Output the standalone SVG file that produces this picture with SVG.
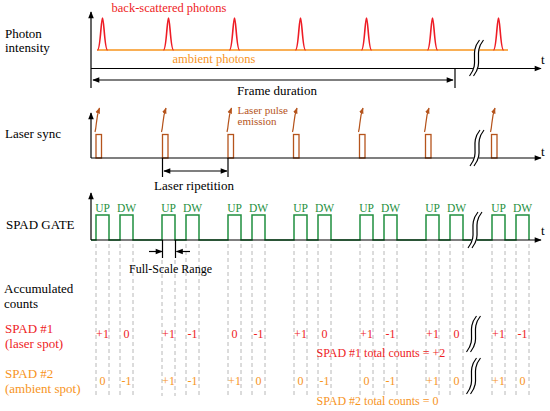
<svg xmlns="http://www.w3.org/2000/svg" xmlns:xlink="http://www.w3.org/1999/xlink" width="550" height="411" viewBox="0 0 550 411">
<style>
text{font-family:"Liberation Serif","Times New Roman",serif;}
.lbl{font-size:13px;fill:#000;}
.ax{stroke:#000;stroke-width:1.2;fill:none;}
.red{fill:#ee1c25;}
.org{fill:#f7941d;}
.brn{fill:#b5541c;}
.grn{fill:#1f8f3f;}
.cnt{font-size:12px;text-anchor:middle;}
.gate{fill:none;stroke:#1f8f3f;stroke-width:1.5;}
.pulse{fill:none;stroke:#b5541c;stroke-width:1.3;}
.sq{fill:none;stroke:#b5541c;stroke-width:1.2;}
.pk{fill:none;stroke:#ee1c25;stroke-width:1.6;}
.dash{stroke:#b8b8b8;stroke-width:1;stroke-dasharray:4 3;}
.ud{font-size:11.5px;text-anchor:middle;fill:#1f8f3f;}
</style>
<defs>
<marker id="ah" viewBox="0 0 10 10" refX="9" refY="5" markerWidth="8" markerHeight="7" markerUnits="userSpaceOnUse" orient="auto-start-reverse"><path d="M0,1 L10,5 L0,9 Z" fill="#000"/></marker>
<marker id="ahb" viewBox="0 0 10 10" refX="9" refY="5" markerWidth="6" markerHeight="6" markerUnits="userSpaceOnUse" orient="auto"><path d="M0,1 L10,5 L0,9 Z" fill="#b5541c"/></marker>
<g id="brk">
<path d="M7,-18 C-4,-4 8,4 -3,18" stroke="#fff" stroke-width="5" fill="none"/>
<path d="M5,-18 C-6,-4 6,4 -5,18" stroke="#000" stroke-width="1.2" fill="none"/>
<path d="M9,-18 C-2,-4 10,4 -1,18" stroke="#000" stroke-width="1.2" fill="none"/>
</g>
</defs>
<rect width="550" height="411" fill="#fff"/>

<g id="labels-left" class="lbl">
<text x="5" y="38">Photon</text>
<text x="5" y="52">intensity</text>
<text x="5" y="138">Laser sync</text>
<text x="6" y="229">SPAD GATE</text>
<text x="4" y="293">Accumulated</text>
<text x="4" y="308">counts</text>
<text x="5" y="333" class="red">SPAD  #1</text>
<text x="5" y="347.5" class="red">(laser spot)</text>
<text x="5" y="378" class="org">SPAD  #2</text>
<text x="5" y="392.5" class="org">(ambient spot)</text>
</g>

<g id="dashed-guides">
<path class="dash" d="M96,244V396 M109,244V396 M120,244V396 M133,244V396 M162,260V396 M175,260V396 M186,244V396 M199,244V396 M228,244V396 M241,244V396 M252,244V396 M265,244V396 M294,244V396 M307,244V396 M318,244V396 M331,244V396 M360,244V396 M373,244V396 M384,244V396 M397,244V396 M426,244V396 M439,244V396 M450,244V396 M463,244V396 M492,244V396 M505,244V396 M516,244V396 M529,244V396"/>
</g>

<g id="photon-intensity">
<path d="M97,50 H508" stroke="#f7941d" stroke-width="1.5" fill="none"/>
<path class="pk" d="M97.5,50 C100.5,50 101,18 102.5,18 C104,18 104.5,50 107.5,50"/>
<path class="pk" d="M163.5,50 C166.5,50 167,18 168.5,18 C170,18 170.5,50 173.5,50"/>
<path class="pk" d="M229.5,50 C232.5,50 233,18 234.5,18 C236,18 236.5,50 239.5,50"/>
<path class="pk" d="M295.5,50 C298.5,50 299,18 300.5,18 C302,18 302.5,50 305.5,50"/>
<path class="pk" d="M361.5,50 C364.5,50 365,18 366.5,18 C368,18 368.5,50 371.5,50"/>
<path class="pk" d="M427.5,50 C430.5,50 431,18 432.5,18 C434,18 434.5,50 437.5,50"/>
<path class="pk" d="M493.5,50 C496.5,50 497,18 498.5,18 C500,18 500.5,50 503.5,50"/>
<text x="169" y="12" class="red" font-size="12.5" text-anchor="middle">back-scattered photons</text>
<text x="214" y="63" class="org" font-size="12.5" text-anchor="middle">ambient photons</text>
</g>

<g id="laser-sync">
<rect class="pulse" x="96" y="134.5" width="5.5" height="23.5"/>
<rect class="pulse" x="162.5" y="134.5" width="5.5" height="23.5"/>
<rect class="pulse" x="228" y="134.5" width="5.5" height="23.5"/>
<rect class="pulse" x="293.5" y="134.5" width="5.5" height="23.5"/>
<rect class="pulse" x="359.5" y="134.5" width="5.5" height="23.5"/>
<rect class="pulse" x="425.5" y="134.5" width="5.5" height="23.5"/>
<rect class="pulse" x="491.5" y="134.5" width="5.5" height="23.5"/>
<path class="sq" marker-end="url(#ahb)" d="M95,132 C97,125 95.5,119 99.5,108"/>
<path class="sq" marker-end="url(#ahb)" d="M161.5,132 C163.5,125 162,119 166,108"/>
<path class="sq" marker-end="url(#ahb)" d="M227,132 C229,125 227.5,119 231.5,108"/>
<path class="sq" marker-end="url(#ahb)" d="M292.5,132 C294.5,125 293,119 297,108"/>
<path class="sq" marker-end="url(#ahb)" d="M358.5,132 C360.5,125 359,119 363,108"/>
<path class="sq" marker-end="url(#ahb)" d="M424.5,132 C426.5,125 425,119 429,108"/>
<path class="sq" marker-end="url(#ahb)" d="M490.5,132 C492.5,125 491,119 495,108"/>
<text x="237.5" y="114" class="brn" font-size="11">Laser pulse</text>
<text x="237.5" y="125" class="brn" font-size="11">emission</text>
</g>

<g id="spad-gate">
<path class="gate" d="M91,240 H96 V215 H109 V240 H120 V215 H133 V240 H162 V215 H175 V240 H186 V215 H199 V240 H228 V215 H241 V240 H252 V215 H265 V240 H294 V215 H307 V240 H318 V215 H331 V240 H360 V215 H373 V240 H384 V215 H397 V240 H426 V215 H439 V240 H450 V215 H463 V240 H492 V215 H505 V240 H516 V215 H529 V240"/>
<g class="ud">
<text x="102.5" y="211.5">UP</text><text x="126.5" y="211.5">DW</text>
<text x="168.5" y="211.5">UP</text><text x="192.5" y="211.5">DW</text>
<text x="234.5" y="211.5">UP</text><text x="258.5" y="211.5">DW</text>
<text x="300.5" y="211.5">UP</text><text x="324.5" y="211.5">DW</text>
<text x="366.5" y="211.5">UP</text><text x="390.5" y="211.5">DW</text>
<text x="432.5" y="211.5">UP</text><text x="456.5" y="211.5">DW</text>
<text x="498.5" y="211.5">UP</text><text x="522.5" y="211.5">DW</text>
</g>
</g>

<g id="axes">
<path class="ax" d="M91,88 V12" marker-end="url(#ah)"/>
<path class="ax" d="M91,68.5 H541" marker-end="url(#ah)"/>
<path class="ax" d="M91,158 V113" marker-end="url(#ah)"/>
<path class="ax" d="M91,158 H541" marker-end="url(#ah)"/>
<path class="ax" d="M91,240 V193" marker-end="url(#ah)"/>
<path class="ax" d="M91,240 H541" marker-end="url(#ah)"/>
<g class="lbl"><text x="541" y="64">t</text><text x="541" y="156">t</text><text x="541" y="235">t</text></g>
</g>

<g id="connectors">
<path class="ax" d="M455,68.5 V88"/>
<path class="ax" d="M93,80 H453" marker-start="url(#ah)" marker-end="url(#ah)"/>
<path class="ax" d="M162.5,158 V177 M228,158 V177"/>
<path class="ax" d="M164,171 H227" marker-start="url(#ah)" marker-end="url(#ah)"/>
<path class="ax" d="M162.5,240 V258 M175.5,240 V258"/>
<path class="ax" d="M149,251.5 H162" marker-end="url(#ah)"/>
<path class="ax" d="M190,251.5 H176.5" marker-end="url(#ah)"/>
</g>

<g id="axis-labels" class="lbl">
<text x="277" y="95" text-anchor="middle">Frame duration</text>
<text x="194" y="190" text-anchor="middle">Laser ripetition</text>
<text x="170.5" y="272.5" text-anchor="middle" font-size="12">Full-Scale Range</text>
</g>

<g id="breaks">
<use xlink:href="#brk" transform="translate(474.5,58)"/>
<use xlink:href="#brk" transform="translate(475,148)"/>
<use xlink:href="#brk" transform="translate(473,230)"/>
<use xlink:href="#brk" transform="translate(471.5,334)"/>
<use xlink:href="#brk" transform="translate(471.5,376)"/>
</g>

<g id="spad1-counts" class="cnt red">
<text x="102.5" y="338">+1</text><text x="126.5" y="338">0</text>
<text x="168.5" y="338">+1</text><text x="192.5" y="338">-1</text>
<text x="234.5" y="338">0</text><text x="258.5" y="338">-1</text>
<text x="300.5" y="338">+1</text><text x="324.5" y="338">0</text>
<text x="366.5" y="338">+1</text><text x="390.5" y="338">-1</text>
<text x="432.5" y="338">+1</text><text x="456.5" y="338">0</text>
<text x="498.5" y="338">+1</text><text x="522.5" y="338">-1</text>
</g>
<text x="316.5" y="357" class="red" font-size="12">SPAD #1 total counts = +2</text>

<g id="spad2-counts" class="cnt org">
<text x="102.5" y="385">0</text><text x="126.5" y="385">-1</text>
<text x="168.5" y="385">+1</text><text x="192.5" y="385">-1</text>
<text x="234.5" y="385">+1</text><text x="258.5" y="385">0</text>
<text x="300.5" y="385">0</text><text x="324.5" y="385">-1</text>
<text x="366.5" y="385">0</text><text x="390.5" y="385">-1</text>
<text x="432.5" y="385">+1</text><text x="456.5" y="385">0</text>
<text x="498.5" y="385">+1</text><text x="522.5" y="385">0</text>
</g>
<text x="316.5" y="405" class="org" font-size="12">SPAD #2 total counts = 0</text>
</svg>
